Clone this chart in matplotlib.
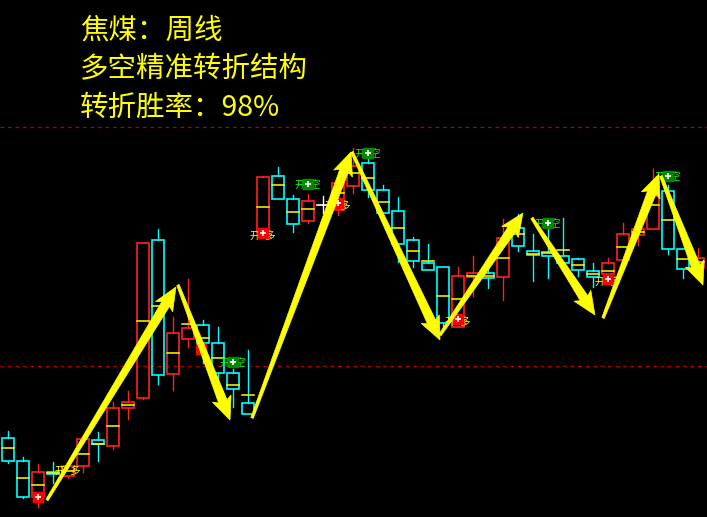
import numpy as np
import matplotlib
matplotlib.use("Agg")
import matplotlib.pyplot as plt
from matplotlib.patches import Rectangle, Polygon

plt.rcParams['font.family'] = ['Noto Sans CJK SC', 'DejaVu Sans']

# weekly coking coal candles
opens  = [1448, 1356, 1212, 1312, 1296, 1336, 1440, 1416, 1568, 1608,
          2240, 1704, 1844, 1900, 1828, 1708, 1588, 2272, 2496, 2404,
          2316, 2380, 2360, 2456, 2548, 2440, 2356, 2240, 2148, 2132,
          1892, 2092, 2108, 2092, 2288, 2196, 2192, 2176, 2164, 2116,
          2104, 2160, 2260, 2284, 2436, 2204, 2128]
highs  = [1476, 1372, 1344, 1352, 1348, 1444, 1472, 1592, 1636, 2228,
          2284, 1932, 2084, 1920, 1892, 1724, 1800, 2496, 2532, 2420,
          2424, 2416, 2468, 2608, 2568, 2460, 2412, 2252, 2224, 2132,
          2132, 2176, 2152, 2324, 2344, 2264, 2320, 2328, 2168, 2148,
          2168, 2308, 2284, 2524, 2460, 2204, 2208]
lows   = [1348, 1208, 1172, 1268, 1288, 1312, 1356, 1404, 1524, 1604,
          1664, 1640, 1812, 1748, 1680, 1572, 1544, 2268, 2404, 2272,
          2308, 2348, 2340, 2428, 2412, 2348, 2152, 2132, 2120, 1892,
          1892, 2016, 2048, 2000, 2196, 2076, 2088, 2148, 2096, 2052,
          2080, 2160, 2220, 2284, 2184, 2088, 2120]
closes = [1356, 1212, 1312, 1304, 1336, 1444, 1424, 1568, 1592, 2228,
          1700, 1868, 1888, 1828, 1708, 1644, 1544, 2492, 2404, 2304,
          2396, 2380, 2468, 2536, 2440, 2348, 2224, 2156, 2120, 1908,
          2096, 2108, 2088, 2248, 2216, 2180, 2176, 2148, 2120, 2092,
          2148, 2264, 2284, 2416, 2204, 2124, 2168]
mids   = [1408, 1288, 1260, 1308, 1316, 1384, 1424, 1496, 1580, 1916,
          1976, 1788, 1904, 1848, 1768, 1660, 1620, 2372, 2460, 2352,
          2364, 2380, 2428, 2508, 2488, 2392, 2288, 2196, 2156, 2016,
          2004, 2096, 2096, 2168, 2264, 2184, 2188, 2200, 2140, 2104,
          2116, 2212, 2272, 2380, 2320, 2164, 2152]

# signals: 开多 (long) and 开空 (short)
long_idx = [2, 17, 22, 30, 40]
long_px = [1212, 2268, 2388, 1924, 2084]
long_txt_idx = [4, 17, 22, 30, 40]
long_txt_px = [1316, 2256, 2376, 1912, 2072]
short_idx = [15, 20, 24, 36, 44]
short_px = [1752, 2464, 2588, 2308, 2496]
hidden_idx = [12.9]
hidden_px = [1804]

# turning-structure arrows: start (index, price) -> end (index, price)
arr_x0 = [2.6, 11.33, 16.27, 22.93, 28.8, 34.93, 39.67, 43.53]
arr_p0 = [1200, 2060, 1528, 2592, 1860, 2328, 1928, 2496]
arr_x1 = [11.2, 14.8, 22.87, 28.8, 34.33, 39.13, 43.4, 46.33]
arr_p1 = [2052, 1520, 2592, 1840, 2348, 1940, 2504, 2060]

ref_levels = [2692, 1736]

title_lines = ['焦煤：周线', '多空精准转折结构', '转折胜率：98%']

RED = '#ff2020'
CYAN = '#00ffff'
YEL = '#ffff00'

fig = plt.figure(figsize=(7.07, 5.17), dpi=100, facecolor='black')
ax = fig.add_axes([0, 0, 1, 1])
ax.set_facecolor('black')
ax.set_xlim(-0.533, 46.6)
ax.set_ylim(1132, 3200)
ax.axis('off')

for lv in ref_levels:
    ax.axhline(lv, color='#b00000', lw=0.9, ls=(0, (3, 3)), zorder=1)

w = 0.86
for i, (o, h, l, c, m) in enumerate(zip(opens, highs, lows, closes, mids)):
    if c > o:
        col = RED
    elif c < o:
        col = CYAN
    else:
        col = 'white'
    top, bot = max(o, c), min(o, c)
    if h > top:
        ax.plot([i, i], [top, h], color=col, lw=1.0, zorder=2)
    if l < bot:
        ax.plot([i, i], [l, bot], color=col, lw=1.0, zorder=2)
    if top > bot:
        ax.add_patch(Rectangle((i - w / 2, bot), w, top - bot, fill=False,
                               edgecolor=col, lw=1.2, zorder=2))
        ax.plot([i - w / 2, i + w / 2], [m, m], color=YEL, lw=1.1, zorder=3)
    else:
        ax.plot([i - w / 2, i + w / 2], [o, o], color=col, lw=1.2, zorder=2)

# signal labels
for i, p in zip(long_txt_idx, long_txt_px):
    ax.text(i, p, '开  多', color=YEL, fontsize=7.5, ha='center', va='center', zorder=4)
for i, p in zip(long_idx + hidden_idx, long_px + hidden_px):
    ax.scatter(i, p, marker='s', s=45, color='#ff0000', zorder=5)
for i, p in zip(long_idx, long_px):
    ax.scatter(i, p, marker='+', s=22, color='white', lw=1.2, zorder=6)
for i, p in zip(short_idx, short_px):
    ax.text(i, p - 4, '开  空', color='#00ff00', fontsize=7.5, ha='center', va='center', zorder=4)
    ax.scatter(i, p, marker='s', s=45, color='#008a00', zorder=5)
    ax.scatter(i, p, marker='+', s=22, color='white', lw=1.2, zorder=6)


def arrow_poly(x0, p0, x1, p1):
    tr = ax.transData
    a = tr.transform((x0, p0))
    b = tr.transform((x1, p1))
    d = b - a
    L = np.hypot(*d)
    u = d / L
    n = np.array([-u[1], u[0]])
    hl, hw, sw, tw = 20, 10, 4.5, 1.3
    base = b - u * hl
    pts = [a + n * tw, base + n * sw, base + n * hw - u * 3, b,
           base - n * hw - u * 3, base - n * sw, a - n * tw]
    return tr.inverted().transform(np.array(pts))


for x0, p0, x1, p1 in zip(arr_x0, arr_p0, arr_x1, arr_p1):
    ax.add_patch(Polygon(arrow_poly(x0, p0, x1, p1), closed=True,
                         facecolor=YEL, edgecolor=YEL, lw=0.5, zorder=8))

for k, line in enumerate(title_lines):
    fig.text(80 / 707, 1 - (31 + 38.5 * k) / 517, line, color=YEL,
             fontsize=20.5, fontweight='medium', ha='left', va='center')

fig.savefig('out.png', dpi=100, facecolor='black')
